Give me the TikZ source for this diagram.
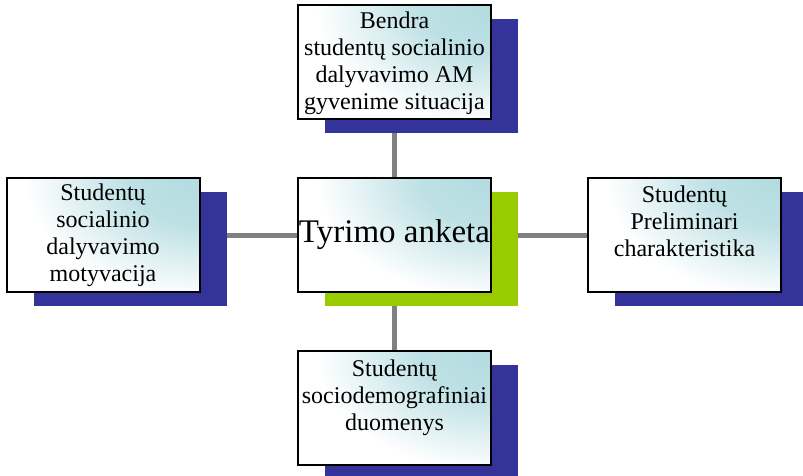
\documentclass[tikz,border=0pt]{standalone}
\usepackage{fontspec}
\setmainfont{Liberation Serif}
\usetikzlibrary{shadows,backgrounds}

\definecolor{boxcyan}{RGB}{178,219,224}
\definecolor{shadowblue}{RGB}{51,51,153}
\definecolor{shadowgreen}{RGB}{153,204,0}
\definecolor{linkgray}{RGB}{128,128,128}

% soft cyan glow: full colour at the centre, white from half the radius on
\pgfdeclareradialshading{glow}{\pgfpoint{0bp}{0bp}}{color(0bp)=(boxcyan); color(5bp)=(boxcyan!85!white); color(12.5bp)=(white); color(50bp)=(white)}

\tikzset{
  basebox/.style={draw=black, line width=2pt, minimum width=193pt, minimum height=114pt,
    inner sep=0pt, fill=white,
    % glow spreading from the upper right corner
    path picture={\fill[shading=glow]
      (path picture bounding box.north east) ellipse [x radius=350pt, y radius=240pt];}},
  bluebox/.style={basebox, general shadow={fill=shadowblue, shadow xshift=27pt, shadow yshift=-14pt}},
  greenbox/.style={basebox, general shadow={fill=shadowgreen, shadow xshift=27pt, shadow yshift=-14pt}},
  boxtext/.style={anchor=north, inner sep=0pt, align=center, font=\fontsize{24}{27}\selectfont},
  link/.style={draw=linkgray, line width=5pt}
}

\begin{document}
\begin{tikzpicture}[x=1pt,y=-1pt]
  \useasboundingbox (0,0) rectangle (803,476);
  \clip (0,0) rectangle (803,476);

  % central box and the four topic boxes
  \node[greenbox, font=\fontsize{33}{36}\selectfont] (hub) at (394.5,235) {Tyrimo anketa};
  \node[bluebox] (top) at (394.5,62) {};
  \node[bluebox] (left) at (103,235) {};
  \node[bluebox] (right) at (684.5,235) {};
  \node[bluebox] (bottom) at (394.5,408) {};

  \node[boxtext] (toptext) at ([yshift=-8pt]top.north)
    {Bendra\\studentų socialinio\\dalyvavimo AM\\gyvenime situacija};
  \node[boxtext] (lefttext) at ([yshift=-7pt]left.north)
    {Studentų\\socialinio\\dalyvavimo\\motyvacija};
  \node[boxtext] (righttext) at ([yshift=-9pt]right.north)
    {Studentų\\Preliminari\\charakteristika};
  \node[boxtext] (bottomtext) at ([yshift=-10pt]bottom.north)
    {Studentų\\sociodemografiniai\\duomenys};

  % connectors run behind the boxes
  \begin{pgfonlayer}{background}
    \draw[link] (hub) -- (top);
    \draw[link] (hub) -- (left);
    \draw[link] (hub) -- (right);
    \draw[link] (hub) -- (bottom);
  \end{pgfonlayer}
\end{tikzpicture}
\end{document}
